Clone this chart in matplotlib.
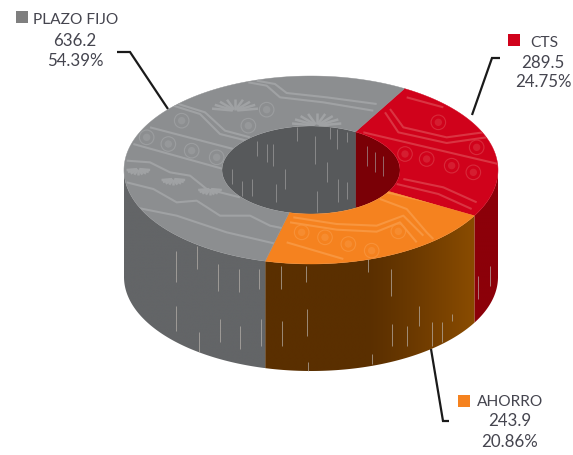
"""Ring chart of deposits by product, drawn as an extruded 3D donut."""
from __future__ import annotations

import numpy as np
import matplotlib

matplotlib.use("Agg")
import matplotlib.pyplot as plt
from matplotlib.collections import LineCollection
from matplotlib.colors import to_rgb
from matplotlib.patches import Polygon, Rectangle

CATEGORIES = ["CTS", "AHORRO", "PLAZO FIJO"]
VALUES = [289.5, 243.9, 636.2]
SHARES = ["24.75%", "20.86%", "54.39%"]
VALUE_LABELS = ["289.5", "243.9", "636.2"]

TOP_COLORS = ["#d0021b", "#f5821f", "#8c8e90"]
PATTERN_COLORS = ["#da3442", "#f8963f", "#a0a2a4"]
WALL_DARK = ["#8c0009", "#5a2f00", "#636567"]
WALL_LIGHT = ["#8c0009", "#8a4c00", "#636567"]
HOLE_COLORS = ["#7a0006", "#5a2f00", "#57595b"]
TEXT_COLOR = "#45454f"

CX, CY = 311.0, 171.0
RX_OUT, RY_OUT = 187.0, 94.0
RX_IN, RY_IN = 89.0, 44.0
DEPTH = 107.0
START_ANGLE = 60.0
SHADE_START_X = 366.0

# Decoration is sketched on a 3x grid with its origin at (110, 70).
GRAY_LINES = [
    [(415, 40), (470, 50), (510, 85), (640, 100), (790, 125)],
    [(440, 35), (495, 45), (530, 72), (650, 85), (800, 105)],
    [(190, 110), (270, 135), (330, 195), (410, 215)],
    [(205, 105), (285, 130), (345, 185), (420, 205)],
    [(120, 175), (370, 240)],
    [(70, 225), (340, 300)],
    [(50, 275), (120, 280), (180, 310), (240, 320), (290, 360), (390, 385)],
    [(50, 340), (130, 360), (200, 400), (260, 395), (330, 440), (420, 440),
     (480, 470), (530, 480)],
    [(50, 410), (200, 440), (350, 490), (500, 525)],
]
RED_LINES = [
    [(890, 85), (1000, 115)],
    [(840, 120), (880, 175), (1010, 205), (1120, 190)],
    [(825, 130), (865, 190), (1010, 222), (1130, 205)],
    [(760, 190), (1165, 285)],
    [(880, 330), (1000, 355), (1100, 400)],
    [(860, 345), (985, 375), (1085, 420)],
]
ORANGE_LINES = [
    [(830, 370), (1070, 425)],
    [(810, 390), (890, 420), (950, 490), (970, 510)],
    [(550, 445), (680, 465), (800, 470), (880, 440), (940, 500)],
    [(540, 460), (680, 482), (800, 488), (870, 460), (920, 520)],
    [(530, 520), (700, 570)],
]
GRAY_RINGS = [(215, 155), (415, 170), (470, 122), (110, 205), (175, 225), (245, 245), (320, 265)]
RED_RINGS = [(985, 160), (1100, 235), (885, 255), (950, 270), (1025, 290), (1090, 310)]
ORANGE_RINGS = [(865, 487), (575, 490), (645, 505), (715, 525), (785, 545)]
# Negative reach opens the fan downward.
FANS = [(620, 170, 75), (375, 125, 70), (85, 300, -36), (190, 330, -36), (300, 360, -36)]

# Scratches across the walls: x, top, bottom on the same grid.
WALL_STREAKS = [
    (197, 545, 640), (197, 710, 785), (262, 530, 600), (268, 790, 850),
    (325, 585, 665), (330, 750, 820), (388, 600, 670), (390, 770, 840),
    (448, 600, 660), (452, 750, 830), (512, 590, 660), (515, 755, 830),
    (587, 590, 640), (590, 720, 800), (595, 880, 905), (775, 570, 610),
    (785, 855, 885), (842, 600, 680), (845, 765, 830), (890, 770, 830),
    (928, 710, 770), (965, 760, 830), (995, 760, 820), (1025, 735, 755),
    (1105, 620, 690), (1140, 590, 650),
]
HOLE_STREAKS = [
    (365, 300, 345), (395, 335, 380), (425, 330, 380), (440, 215, 260),
    (470, 225, 280), (490, 225, 290), (497, 345, 400), (525, 300, 360),
    (560, 175, 215), (615, 200, 285), (620, 365, 430), (650, 280, 340),
    (660, 175, 210), (685, 330, 400), (680, 180, 240), (712, 340, 390),
    (710, 190, 220), (770, 230, 290), (795, 250, 310), (820, 260, 320),
]


def grid(points):
    """Convert sketch-grid points to figure pixels."""
    return [(110 + x / 3, 70 + y / 3) for x, y in points]


def rim(t_deg, rx, ry, drop=0.0):
    """Points on an elliptical rim for angles in degrees."""
    t = np.radians(t_deg)
    return np.column_stack([CX + rx * np.cos(t), CY - ry * np.sin(t) + drop])


def wall_outline(angles, rx, ry):
    return np.vstack([rim(angles, rx, ry), rim(angles[::-1], rx, ry, DEPTH)])


def shade_wall(ax, outline, dark, light):
    """Fill a wall polygon with a left-to-right gradient starting at SHADE_START_X."""
    x0, x1 = outline[:, 0].min(), outline[:, 0].max()
    y0, y1 = outline[:, 1].min(), outline[:, 1].max()
    xs = np.linspace(x0, x1, 300)
    amount = np.clip((xs - SHADE_START_X) / max(x1 - SHADE_START_X, 1), 0, 1) ** 1.2
    a, b = np.array(to_rgb(dark)), np.array(to_rgb(light))
    strip = (a + (b - a) * amount[:, None])[None, :, :]
    img = ax.imshow(strip, extent=(x0, x1, y1, y0), aspect="auto",
                    interpolation="bilinear", zorder=2)
    clip = Polygon(outline, closed=True, facecolor="none", edgecolor="none", zorder=2)
    ax.add_patch(clip)
    img.set_clip_path(clip)


def draw_pattern(ax, clip, lines, rings, color, fans=()):
    art = LineCollection(
        [grid(line) for line in lines], colors=color, linewidths=1.5, zorder=5
    )
    ax.add_collection(art)
    art.set_clip_path(clip)
    for x, y in grid(rings):
        outer = ax.scatter(x, y, s=110, facecolors="none", edgecolors=color,
                           linewidths=0.8, alpha=0.8, zorder=5)
        core = ax.scatter(x, y, s=28, facecolors=color, edgecolors="none",
                          alpha=0.55, zorder=5)
        outer.set_clip_path(clip)
        core.set_clip_path(clip)
    for x, y, reach in fans:
        spokes = []
        for a in np.linspace(10, 170, 9):
            rad = np.radians(a)
            start = (x + 0.1 * reach * np.cos(rad), y - 0.05 * reach * np.sin(rad))
            end = (x + reach * np.cos(rad), y - reach * np.sin(rad) * 0.5)
            spokes.append(grid([start, end]))
        art = LineCollection(spokes, colors=color, linewidths=1.8, zorder=5)
        ax.add_collection(art)
        art.set_clip_path(clip)


def label_block(ax, name, value, share, name_x, name_y, center_x, ys, box):
    ax.add_patch(Rectangle((box[0], box[1]), box[2], box[2],
                           color=box[3], lw=0, zorder=8))
    style = dict(color=TEXT_COLOR, family="Lato", va="center", zorder=8)
    ax.text(name_x, name_y, name, ha="left", fontsize=11.2, **style)
    ax.text(center_x, ys[0], value, ha="center", fontsize=12.2, **style)
    ax.text(center_x, ys[1], share, ha="center", fontsize=12.2, **style)


def main() -> None:
    fig = plt.figure(figsize=(5.73, 4.56), dpi=100)
    ax = fig.add_axes([0, 0, 1, 1])
    ax.axis("off")

    sweeps = np.array(VALUES) / sum(VALUES) * 360.0
    ends = START_ANGLE - np.cumsum(sweeps)
    starts = ends + sweeps

    # Outer wall: only the part of each segment facing the viewer.
    for i, (t0, t1) in enumerate(zip(starts, ends)):
        for shift in (0, 360):
            hi, lo = min(t0 + shift, 360.0), max(t1 + shift, 180.0)
            if hi > lo:
                angles = np.linspace(hi, lo, 200)
                shade_wall(ax, wall_outline(angles, RX_OUT, RY_OUT),
                           WALL_DARK[i], WALL_LIGHT[i])

    # Top faces.
    clips = []
    for i, (t0, t1) in enumerate(zip(starts, ends)):
        angles = np.linspace(t0, t1, 200)
        outline = np.vstack([rim(angles, RX_OUT, RY_OUT),
                             rim(angles[::-1], RX_IN, RY_IN)])
        face = Polygon(outline, closed=True, facecolor=TOP_COLORS[i],
                       edgecolor=TOP_COLORS[i], linewidth=0.3, zorder=4)
        ax.add_patch(face)
        clips.append(face)

    # Far side of the hole, cut off by the inner rim.
    hole = Polygon(rim(np.linspace(0, 360, 240), RX_IN, RY_IN), closed=True,
                   facecolor="none", edgecolor="none", zorder=3)
    ax.add_patch(hole)
    for i, (t0, t1) in enumerate(zip(starts, ends)):
        for shift in (0, 360, -360):
            hi, lo = min(t0 + shift, 180.0), max(t1 + shift, 0.0)
            if hi > lo:
                angles = np.linspace(hi, lo, 120)
                wall = Polygon(wall_outline(angles, RX_IN, RY_IN), closed=True,
                               facecolor=HOLE_COLORS[i], edgecolor=HOLE_COLORS[i],
                               linewidth=0.4, zorder=3)
                ax.add_patch(wall)
                wall.set_clip_path(hole)

    draw_pattern(ax, clips[2], GRAY_LINES, GRAY_RINGS, PATTERN_COLORS[2], FANS)
    draw_pattern(ax, clips[0], RED_LINES, RED_RINGS, PATTERN_COLORS[0])
    draw_pattern(ax, clips[1], ORANGE_LINES, ORANGE_RINGS, PATTERN_COLORS[1])

    streaks = [grid([(x, a), (x, b)]) for x, a, b in WALL_STREAKS]
    ax.add_collection(LineCollection(streaks, colors="#b9b3ad", linewidths=0.6,
                                     alpha=0.8, zorder=3))
    inner = LineCollection([grid([(x, a), (x, b)]) for x, a, b in HOLE_STREAKS],
                           colors="#a9a9a9", linewidths=0.6, alpha=0.7, zorder=3)
    ax.add_collection(inner)
    inner.set_clip_path(hole)

    # Leader lines.
    for xs, ys in (
        ([117, 130, 168], [53, 53, 110]),
        ([500, 492, 472], [59, 59, 116]),
        ([431, 443, 449], [350, 422, 422]),
    ):
        ax.plot(xs, ys, color="#1a1a1a", lw=1.6, solid_joinstyle="miter",
                solid_capstyle="butt", zorder=6)

    label_block(ax, CATEGORIES[2], VALUE_LABELS[2], SHARES[2], 33, 20, 75, (41, 61),
                (16, 12, 11.5, "#7f7f7f"))
    label_block(ax, CATEGORIES[0], VALUE_LABELS[0], SHARES[0], 530, 43, 543, (63, 82),
                (508, 35, 11.5, TOP_COLORS[0]))
    label_block(ax, CATEGORIES[1], VALUE_LABELS[1], SHARES[1], 477, 402, 510, (421, 442),
                (458, 396, 12, TOP_COLORS[1]))

    ax.set_xlim(0, 573)
    ax.set_ylim(456, 0)
    fig.savefig("out.png", dpi=100)
    plt.close(fig)


if __name__ == "__main__":
    main()
